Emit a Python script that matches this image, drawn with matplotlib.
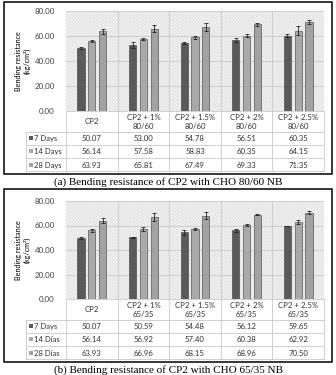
"""Bending resistance of CP2 with CHO fibres: two Excel-style bar charts with data tables."""

import matplotlib

matplotlib.use("Agg")
import matplotlib.pyplot as plt  # noqa: E402
import numpy as np  # noqa: E402
from matplotlib.patches import Rectangle  # noqa: E402

plt.rcParams["font.family"] = ["Lato", "DejaVu Sans"]
plt.rcParams["hatch.linewidth"] = 0.3

# ---- data -----------------------------------------------------------------
cats_a = ["CP2", "CP2 + 1%\n80/60", "CP2 + 1.5%\n80/60", "CP2 + 2%\n80/60", "CP2 + 2.5%\n80/60"]
rows_a = ["7 Days", "14 Days", "28 Days"]
d7_a = [50.07, 53.00, 54.78, 56.51, 60.35]
d14_a = [56.14, 57.58, 58.83, 60.35, 64.15]
d28_a = [63.93, 65.81, 67.49, 69.33, 71.35]
e7_a = [0.8, 2.6, 0.8, 1.5, 1.5]
e14_a = [1.0, 0.8, 1.5, 1.5, 3.5]
e28_a = [2.0, 3.0, 3.2, 1.2, 1.8]

cats_b = ["CP2", "CP2 + 1%\n65/35", "CP2 + 1.5%\n65/35", "CP2 + 2%\n65/35", "CP2 + 2.5%\n65/35"]
rows_b = ["7 Days", "14 Días", "28 Días"]
d7_b = [50.07, 50.59, 54.48, 56.12, 59.65]
d14_b = [56.14, 56.92, 57.40, 60.38, 62.92]
d28_b = [63.93, 66.96, 68.15, 68.96, 70.50]
e7_b = [0.7, 0.4, 2.0, 1.3, 0.3]
e14_b = [1.2, 1.6, 0.8, 1.0, 1.6]
e28_b = [2.0, 3.0, 3.2, 0.5, 1.5]

yticks = [0, 20, 40, 60, 80]
captions = ["(a) Bending resistance of CP2 with CHO 80/60 NB",
            "(b) Bending resistance of CP2 with CHO 65/35 NB"]

COLORS = ["#5a5a5a", "#a9a9a9", "#a2a2a2"]
GRID = "#c8c8c8"
W, H = 336, 375

fig = plt.figure(figsize=(W / 100, H / 100), dpi=100)
over = fig.add_axes([0, 0, 1, 1], zorder=5)
over.set_xlim(0, W)
over.set_ylim(H, 0)
over.set_axis_off()
over.patch.set_alpha(0)


def panel(border_top, y_top, y_zero, cats, rows, vals, errs, caption):
    # pixel layout of one panel (y grows downward)
    x0, x1, xl = 66, 324, 26
    y_cat = y_zero + 20.5
    row_h = 13.3
    ax = fig.add_axes([x0 / W, 1 - y_zero / H, (x1 - x0) / W, (y_zero - y_top) / H])
    ax.set_facecolor("#f4f4f4")
    ax.add_patch(Rectangle((0, 0), 1, 1, transform=ax.transAxes, facecolor="none",
                           edgecolor="#dadada", hatch="xxxxxxxxxx", lw=0, zorder=0))
    n = len(cats)
    x = np.arange(n)
    for i, (v, e) in enumerate(zip(vals, errs)):
        ax.bar(x + (i - 1) * 0.21, v, 0.14, color=COLORS[i], edgecolor="#3c3c3c", lw=0.4,
               yerr=e, error_kw=dict(lw=0.6, capsize=1.6, capthick=0.6, ecolor="#222"), zorder=3)
    ax.set_xlim(-0.5, n - 0.5)
    ax.set_ylim(0, 80)
    ax.set_yticks(yticks)
    ax.set_yticklabels([f"{t:.2f}" for t in yticks], fontsize=5.7, color="#404040")
    ax.tick_params(axis="y", length=0, pad=8)
    ax.set_xticks([])
    for t in yticks[1:]:
        ax.axhline(t, color=GRID, lw=0.6, zorder=1)
    for b in np.arange(0.5, n - 1, 1.0):
        ax.axvline(b, color=GRID, lw=0.6, zorder=1)
    for s in ax.spines.values():
        s.set_visible(False)

    # y label
    over.text(23, (y_top + y_zero) / 2, "Bending resistance\n(kg/cm²)", rotation=90,
              ha="center", va="center", fontsize=5.2, multialignment="center")

    # category row + data table
    cw = (x1 - x0) / n
    y_rows = [y_cat + k * row_h for k in range(len(rows) + 1)]
    over.plot([x0, x1], [y_zero, y_zero], color=GRID, lw=0.6)
    for yy in y_rows:
        over.plot([xl, x1], [yy, yy], color=GRID, lw=0.6)
    over.plot([xl, xl], [y_rows[0], y_rows[-1]], color=GRID, lw=0.6)
    for k in range(n + 1):
        over.plot([x0 + k * cw] * 2, [y_zero, y_rows[-1]], color=GRID, lw=0.6)
    for k, c in enumerate(cats):
        over.text(x0 + (k + 0.5) * cw, (y_zero + y_cat) / 2 + 0.5, c, ha="center", va="center",
                  fontsize=5.6, linespacing=1.35, color="#303030")
    for r, (lab, v) in enumerate(zip(rows, vals)):
        yc = (y_rows[r] + y_rows[r + 1]) / 2
        over.add_patch(Rectangle((29, yc - 2), 4, 4, facecolor=COLORS[r], lw=0))
        over.text(34.5, yc + 0.3, lab, ha="left", va="center", fontsize=5.5, color="#303030")
        for k, val in enumerate(v):
            over.text(x0 + (k + 0.5) * cw, yc + 0.3, f"{val:.2f}", ha="center", va="center",
                      fontsize=5.6, color="#303030")

    # outer border and caption
    y_bot = y_rows[-1] + 3
    over.add_patch(Rectangle((4, border_top), 327.5, y_bot - border_top, facecolor="none",
                             edgecolor="black", lw=1.1))
    over.text(168, y_bot + 7.5, caption, ha="center", va="center", fontsize=8,
              family=["Liberation Serif", "DejaVu Serif"])


panel(2, 11, 111, cats_a, rows_a, [d7_a, d14_a, d28_a], [e7_a, e14_a, e28_a], captions[0])
panel(189, 201, 299, cats_b, rows_b, [d7_b, d14_b, d28_b], [e7_b, e14_b, e28_b], captions[1])

fig.savefig("out.png", dpi=100, facecolor="white")
print("saved out.png")
